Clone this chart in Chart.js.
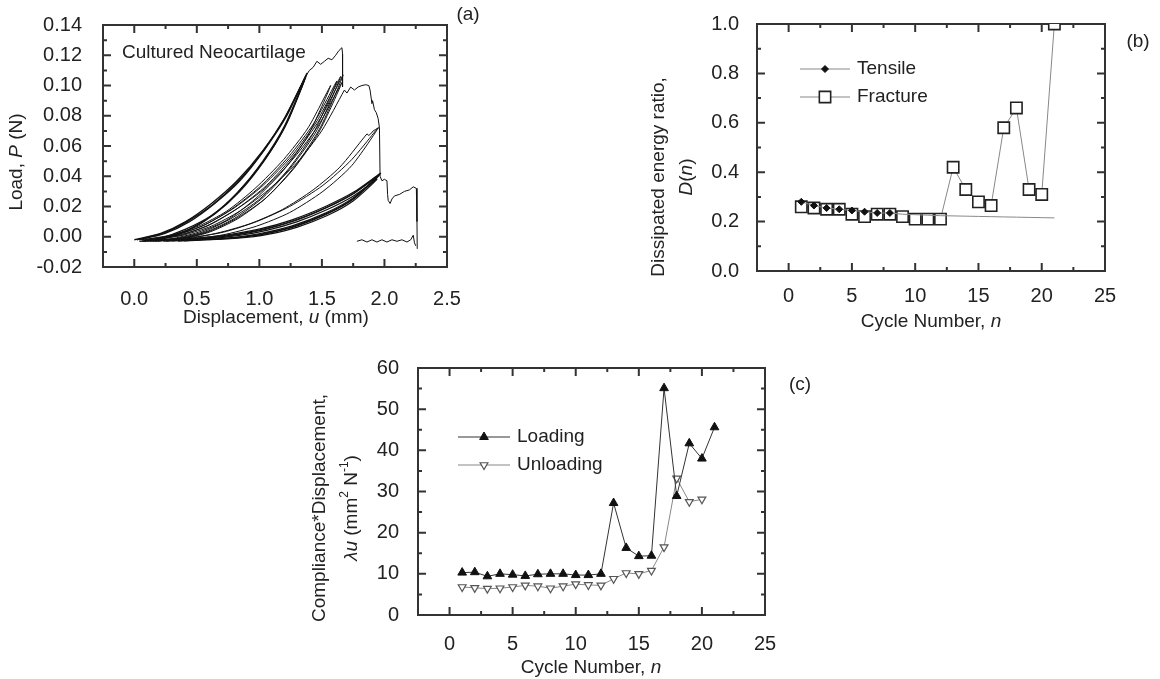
<!DOCTYPE html>
<html lang="en">
<head>
<meta charset="UTF-8">
<title>Cultured neocartilage cyclic fracture</title>
<script src="https://cdn.jsdelivr.net/npm/chart.js"></script>
<style>
    body { margin: 0; background: #fff; }
    .page { position: relative; width: 1160px; height: 679px; overflow: hidden; }
    canvas { position: absolute; }
    #chartA { left: 0; top: 0; }
    #chartB { left: 560px; top: 0; }
    #chartC { left: 300px; top: 330px; }
</style>
</head>
<body>
<div class="page">
    <canvas id="chartA" width="500" height="335"></canvas>
    <canvas id="chartB" width="600" height="335"></canvas>
    <canvas id="chartC" width="540" height="349"></canvas>
</div>

<script>
// ---- tick labels ----
const xTicksA = [0, 0.5, 1.0, 1.5, 2.0, 2.5];
const yTicksA = [-0.02, 0, 0.02, 0.04, 0.06, 0.08, 0.10, 0.12, 0.14];
const xTicksN = [0, 5, 10, 15, 20, 25];
const yTicksB = [0, 0.2, 0.4, 0.6, 0.8, 1.0];
const yTicksC = [0, 10, 20, 30, 40, 50, 60];

// ---- (a) load vs displacement, flat [u, P, u, P, ...] ----
const loopsStiff = [
    [0,-0.002, 0.206,0.002, 0.411,0.010, 0.617,0.022, 0.822,0.037, 1.028,0.057, 1.206,0.079, 1.37,0.106,
     1.206,0.074, 1.028,0.050, 0.822,0.029, 0.617,0.014, 0.411,0.005, 0.206,-0.001, 0.041,-0.003],
    [0.02,-0.002, 0.221,0.002, 0.422,0.010, 0.623,0.021, 0.824,0.036, 1.025,0.056, 1.199,0.078, 1.36,0.104,
     1.199,0.072, 1.025,0.049, 0.824,0.029, 0.623,0.014, 0.422,0.004, 0.221,-0.001, 0.06,-0.003],
    [0.04,-0.002, 0.241,0.002, 0.442,0.010, 0.643,0.022, 0.844,0.037, 1.045,0.058, 1.219,0.080, 1.38,0.108,
     1.219,0.075, 1.045,0.051, 0.844,0.030, 0.643,0.015, 0.442,0.005, 0.241,-0.001, 0.08,-0.003]
];
const loopsMid = [
    [0.06,-0.002, 0.287,0.001, 0.513,0.007, 0.74,0.017, 0.966,0.032, 1.193,0.051, 1.389,0.072, 1.57,0.100,
     1.389,0.067, 1.193,0.044, 0.966,0.025, 0.74,0.011, 0.513,0.003, 0.287,-0.0015, 0.105,-0.003],
    [0.08,-0.002, 0.311,0.001, 0.542,0.007, 0.773,0.018, 1.004,0.033, 1.235,0.053, 1.435,0.075, 1.62,0.103,
     1.435,0.069, 1.235,0.045, 1.004,0.025, 0.773,0.012, 0.542,0.003, 0.311,-0.0015, 0.126,-0.003],
    [0.10,-0.002, 0.333,0.001, 0.565,0.008, 0.798,0.019, 1.03,0.034, 1.263,0.054, 1.464,0.077, 1.65,0.106,
     1.464,0.071, 1.263,0.047, 1.03,0.026, 0.798,0.012, 0.565,0.003, 0.333,-0.0015, 0.147,-0.003],
    [0.12,-0.002, 0.351,0.001, 0.582,0.007, 0.813,0.018, 1.044,0.032, 1.275,0.052, 1.475,0.074, 1.66,0.102,
     1.475,0.069, 1.275,0.045, 1.044,0.025, 0.813,0.012, 0.582,0.003, 0.351,-0.0015, 0.166,-0.003],
    [0.14,-0.002, 0.37,0.001, 0.599,0.008, 0.829,0.019, 1.058,0.034, 1.288,0.055, 1.486,0.078, 1.67,0.107,
     1.486,0.072, 1.288,0.047, 1.058,0.026, 0.829,0.012, 0.599,0.003, 0.37,-0.0015, 0.186,-0.003]
];
const loopsSoft = [
    [0.16,-0.002, 0.388,0.001, 0.616,0.007, 0.844,0.017, 1.072,0.031, 1.3,0.049, 1.498,0.070, 1.68,0.097],
    [0.2,-0.002, 0.446,-0.001, 0.692,0.003, 0.938,0.009, 1.184,0.018, 1.43,0.031, 1.643,0.046, 1.84,0.066],
    [0.18,-0.002, 0.446,-0.0005, 0.711,0.003, 0.977,0.010, 1.242,0.020, 1.508,0.034, 1.738,0.051, 1.95,0.072,
     1.738,0.047, 1.508,0.030, 1.242,0.016, 0.977,0.007, 0.711,0.0013, 0.446,-0.0016, 0.233,-0.003]
];
const loopsLow = [
    [0.25,-0.002, 0.505,-0.0012, 0.76,0.0009, 1.015,0.0047, 1.27,0.0106, 1.525,0.019, 1.746,0.0282, 1.95,0.040,
     1.746,0.0249, 1.525,0.0148, 1.27,0.0068, 1.015,0.0018, 0.76,-0.001, 0.505,-0.002, 0.301,-0.0028],
    [0.3,-0.002, 0.549,-0.0011, 0.798,0.001, 1.047,0.0049, 1.296,0.0109, 1.545,0.0195, 1.761,0.029, 1.96,0.041,
     1.761,0.0255, 1.545,0.0152, 1.296,0.007, 1.047,0.0019, 0.798,-0.0009, 0.549,-0.002, 0.35,-0.0029],
    [0.35,-0.002, 0.589,-0.0012, 0.827,0.0008, 1.066,0.0044, 1.304,0.010, 1.543,0.018, 1.749,0.0268, 1.94,0.038,
     1.749,0.0236, 1.543,0.014, 1.304,0.0064, 1.066,0.0016, 0.827,-0.001, 0.589,-0.002, 0.398,-0.0028],
    [0.2,-0.002, 0.466,-0.0011, 0.731,0.0011, 0.997,0.005, 1.262,0.0112, 1.528,0.020, 1.758,0.0297, 1.97,0.042,
     1.758,0.0262, 1.528,0.0156, 1.262,0.0072, 0.997,0.002, 0.731,-0.0009, 0.466,-0.002, 0.253,-0.0029]
];
// crack growth segments (jagged)
const tearTop = [1.37,0.106, 1.40,0.110, 1.43,0.112, 1.46,0.116, 1.49,0.114, 1.52,0.116, 1.55,0.118, 1.58,0.117,
                 1.61,0.120, 1.635,0.123, 1.66,0.125, 1.665,0.121, 1.665,0.099];
const tearMid = [1.68,0.097, 1.70,0.095, 1.73,0.099, 1.76,0.097, 1.79,0.099, 1.82,0.100, 1.85,0.1005, 1.875,0.100,
                 1.885,0.097, 1.90,0.088, 1.905,0.090, 1.92,0.084, 1.935,0.082, 1.95,0.078, 1.96,0.072];
const tearLow = [1.84,0.066, 1.86,0.068, 1.875,0.067, 1.89,0.068, 1.91,0.070, 1.93,0.071, 1.95,0.072, 1.96,0.072, 1.965,0.040];
const tailPath = [1.965,0.040, 1.98,0.037, 2.0,0.038, 2.02,0.037, 2.025,0.028, 2.03,0.024, 2.045,0.022, 2.06,0.025,
                  2.08,0.027, 2.12,0.028, 2.16,0.030, 2.2,0.031, 2.23,0.033, 2.255,0.032, 2.26,0.010, 2.262,-0.008];
const tailNoise = [1.78,-0.003, 1.82,-0.002, 1.86,-0.0035, 1.9,-0.002, 1.94,-0.0035, 1.98,-0.002, 2.02,-0.0035,
                   2.06,-0.002, 2.1,-0.003, 2.14,-0.002, 2.18,-0.0035, 2.21,-0.002, 2.23,0.001, 2.24,-0.004, 2.25,-0.006];

// ---- (b) dissipated energy ratio ----
const cycles = [1, 2, 3, 4, 5, 6, 7, 8, 9, 10, 11, 12, 13, 14, 15, 16, 17, 18, 19, 20, 21];
const tensileD = [0.28, 0.265, 0.255, 0.25, 0.245, 0.24, 0.235, 0.235, 0.23, 0.228, 0.226, 0.224,
                  0.223, 0.222, 0.221, 0.22, 0.219, 0.218, 0.217, 0.216, 0.215];
const fractureD = [0.26, 0.255, 0.25, 0.25, 0.23, 0.22, 0.23, 0.23, 0.22, 0.21, 0.21, 0.21,
                   0.42, 0.33, 0.28, 0.265, 0.58, 0.66, 0.33, 0.31, 1.0];

// ---- (c) compliance * displacement ----
const loadingC = [10.3, 10.4, 9.4, 10.0, 9.8, 9.5, 9.9, 10.0, 10.0, 9.7, 9.7, 10.0,
                  27.2, 16.3, 14.3, 14.4, 55.1, 28.9, 41.7, 38.0, 45.6];
const unloadingC = [6.8, 6.6, 6.4, 6.5, 6.8, 7.2, 7.0, 6.5, 7.0, 7.5, 7.3, 7.2,
                    8.8, 10.2, 10.0, 10.8, 16.5, 33.2, 27.5, 28.1];

const FAMILY = '"Liberation Sans", Arial, Helvetica, sans-serif';
const INK = '#222';

const tensileStyle = { line: '#888', pointStyle: 'rectRot', radius: 3.5, fill: '#111', stroke: '#111', borderWidth: 1 };
const fractureStyle = { line: '#888', pointStyle: 'rect', radius: 8, fill: '#fff', stroke: '#222', borderWidth: 1.6 };
const loadingStyle = { line: '#333', pointStyle: 'triangle', radius: 5, fill: '#111', stroke: '#111', borderWidth: 1 };
const unloadingStyle = { line: '#888', pointStyle: 'triangle', rotation: 180, radius: 4.5, fill: '#fff', stroke: '#555', borderWidth: 1.2 };

function pairs(flat) {
    const out = [];
    for (let i = 0; i < flat.length; i += 2) out.push({ x: flat[i], y: flat[i + 1] });
    return out;
}

function trace(flat, tension, width) {
    return { data: pairs(flat), showLine: true, borderColor: '#111', borderWidth: width || 1,
             pointRadius: 0, tension: tension };
}

function series(xs, ys, st, extra) {
    return Object.assign({
        data: ys.map((y, i) => ({ x: xs[i], y: y })),
        showLine: true, borderColor: st.line, borderWidth: 1, tension: 0,
        pointStyle: st.pointStyle, pointRadius: st.radius, pointRotation: st.rotation || 0,
        pointBackgroundColor: st.fill, pointBorderColor: st.stroke, pointBorderWidth: st.borderWidth
    }, extra || {});
}

function axis(min, max, ticks, fmt, size, pad, isY) {
    return {
        type: 'linear', min: min, max: max,
        afterBuildTicks: s => { s.ticks = ticks.map(v => ({ value: v })); },
        afterFit: s => { if (isY) s.width = size; else s.height = size; },
        grid: { display: false },
        border: { display: false },
        ticks: { padding: pad, color: INK, autoSkip: false, maxRotation: 0,
                 font: { family: FAMILY, size: 20 }, callback: v => fmt(v) }
    };
}

function minorsOf(major, min, max) {
    const step = major[1] - major[0];
    const out = [];
    for (let i = -1; i < major.length; i++) {
        const v = major[0] + (i + 0.5) * step;
        if (v > min + 1e-9 && v < max - 1e-9) out.push(v);
    }
    return out;
}

// box with inward major/minor ticks on all four sides
const framePlugin = {
    id: 'frame',
    beforeDatasetsDraw(chart) {
        const { ctx, chartArea: a } = chart;
        const xs = chart.scales.x, ys = chart.scales.y;
        const xMaj = xs.ticks.map(t => t.value), yMaj = ys.ticks.map(t => t.value);
        ctx.save();
        ctx.strokeStyle = '#333';
        ctx.lineWidth = 2;
        ctx.beginPath();
        const xTick = (v, len) => {
            const p = xs.getPixelForValue(v);
            ctx.moveTo(p, a.bottom); ctx.lineTo(p, a.bottom - len);
            ctx.moveTo(p, a.top); ctx.lineTo(p, a.top + len);
        };
        const yTick = (v, len) => {
            const p = ys.getPixelForValue(v);
            ctx.moveTo(a.left, p); ctx.lineTo(a.left + len, p);
            ctx.moveTo(a.right, p); ctx.lineTo(a.right - len, p);
        };
        xMaj.forEach(v => xTick(v, 8));
        minorsOf(xMaj, xs.min, xs.max).forEach(v => xTick(v, 4));
        yMaj.forEach(v => yTick(v, 8));
        minorsOf(yMaj, ys.min, ys.max).forEach(v => yTick(v, 4));
        ctx.stroke();
        ctx.strokeRect(a.left, a.top, a.right - a.left, a.bottom - a.top);
        ctx.restore();
    }
};

function drawRich(ctx, it) {
    const size = it.size || 19;
    const fontOf = s => (s.it ? 'italic ' : '') + (s.sup ? Math.round(size * 0.62) : size) + 'px ' + FAMILY;
    ctx.save();
    ctx.translate(it.x, it.y);
    if (it.rot) ctx.rotate(-Math.PI / 2);
    let w = 0;
    it.segs.forEach(s => { ctx.font = fontOf(s); w += ctx.measureText(s.t).width; });
    let cx = it.align === 'left' ? 0 : -w / 2;
    ctx.fillStyle = INK;
    ctx.textBaseline = 'middle';
    ctx.textAlign = 'left';
    it.segs.forEach(s => {
        ctx.font = fontOf(s);
        ctx.fillText(s.t, cx, s.sup ? -size * 0.38 : 0);
        cx += ctx.measureText(s.t).width;
    });
    ctx.restore();
}

function textLayer(items) {
    return { id: 'textLayer', afterDraw(chart) { items.forEach(it => drawRich(chart.ctx, it)); } };
}

function legendLayer(rows) {
    return {
        id: 'legendLayer',
        afterDraw(chart) {
            const ctx = chart.ctx;
            rows.forEach(r => {
                const st = r.style;
                ctx.save();
                ctx.strokeStyle = st.line;
                ctx.lineWidth = 1;
                ctx.beginPath(); ctx.moveTo(r.x1, r.y); ctx.lineTo(r.x2, r.y); ctx.stroke();
                ctx.fillStyle = st.fill;
                ctx.strokeStyle = st.stroke;
                ctx.lineWidth = st.borderWidth;
                Chart.helpers.drawPoint(ctx, { pointStyle: st.pointStyle, rotation: st.rotation || 0,
                    radius: st.radius, borderWidth: st.borderWidth }, (r.x1 + r.x2) / 2, r.y);
                ctx.restore();
                drawRich(ctx, { segs: [{ t: r.label }], x: r.x2 + 7, y: r.y, align: 'left' });
            });
        }
    };
}

const baseOptions = (padding, scales) => ({
    responsive: false, animation: false, devicePixelRatio: 1,
    layout: { padding: padding },
    plugins: { legend: { display: false }, tooltip: { enabled: false } },
    scales: scales
});

// ---------- (a) ----------
const setsA = []
    .concat(loopsStiff.map(l => trace(l, 0.25, 1.3)))
    .concat(loopsMid.map(l => trace(l, 0.25)))
    .concat(loopsSoft.map(l => trace(l, 0.25)))
    .concat(loopsLow.map(l => trace(l, 0.25, 1.2)))
    .concat([tearTop, tearMid, tearLow, tailPath, tailNoise].map(l => trace(l, 0)));

new Chart(document.getElementById('chartA'), {
    type: 'scatter',
    data: { datasets: setsA },
    options: baseOptions({ top: 24, right: 53, left: 0, bottom: 0 }, {
        x: axis(-0.25, 2.5, xTicksA, v => v.toFixed(1), 68, 12, false),
        y: axis(-0.02, 0.14, yTicksA, v => v.toFixed(2), 103, 13, true)
    }),
    plugins: [framePlugin, textLayer([
        { segs: [{ t: 'Cultured Neocartilage' }], x: 122, y: 53, align: 'left' },
        { segs: [{ t: '(a)' }], x: 468, y: 15 },
        { segs: [{ t: 'Load, ' }, { t: 'P', it: true }, { t: ' (N)' }], x: 17, y: 162, rot: true },
        { segs: [{ t: 'Displacement, ' }, { t: 'u', it: true }, { t: ' (mm)' }], x: 276, y: 318 }
    ])]
});

// ---------- (b) ----------
new Chart(document.getElementById('chartB'), {
    type: 'scatter',
    data: { datasets: [
        series(cycles, tensileD, tensileStyle, { pointRadius: c => c.dataIndex < 8 ? tensileStyle.radius : 0 }),
        series(cycles, fractureD, fractureStyle)
    ] },
    options: baseOptions({ top: 24, right: 55, left: 0, bottom: 0 }, {
        x: axis(-2.5, 25, xTicksN, v => String(v), 64, 5, false),
        y: axis(0, 1.0, yTicksB, v => v.toFixed(1), 197, 10, true)
    }),
    plugins: [framePlugin, legendLayer([
        { style: tensileStyle, label: 'Tensile', x1: 240, x2: 290, y: 69 },
        { style: fractureStyle, label: 'Fracture', x1: 240, x2: 290, y: 97 }
    ]), textLayer([
        { segs: [{ t: '(b)' }], x: 578, y: 42 },
        { segs: [{ t: 'Dissipated energy ratio,' }], x: 99, y: 177, rot: true },
        { segs: [{ t: 'D', it: true }, { t: '(' }, { t: 'n', it: true }, { t: ')' }], x: 127, y: 177, rot: true },
        { segs: [{ t: 'Cycle Number, ' }, { t: 'n', it: true }], x: 371, y: 322 }
    ])]
});

// ---------- (c) ----------
new Chart(document.getElementById('chartC'), {
    type: 'scatter',
    data: { datasets: [
        series(cycles, loadingC, loadingStyle),
        series(cycles, unloadingC, unloadingStyle)
    ] },
    options: baseOptions({ top: 38, right: 75, left: 0, bottom: 0 }, {
        x: axis(-2.5, 25, xTicksN, v => String(v), 64, 9, false),
        y: axis(0, 60, yTicksC, v => String(v), 118, 11, true)
    }),
    plugins: [framePlugin, legendLayer([
        { style: loadingStyle, label: 'Loading', x1: 158, x2: 210, y: 107 },
        { style: unloadingStyle, label: 'Unloading', x1: 158, x2: 210, y: 135 }
    ]), textLayer([
        { segs: [{ t: '(c)' }], x: 500, y: 55 },
        { segs: [{ t: 'Compliance*Displacement,' }], x: 20, y: 178, rot: true },
        { segs: [{ t: '\u03bbu', it: true }, { t: ' (mm' }, { t: '2', sup: true }, { t: ' N' }, { t: '-1', sup: true }, { t: ')' }],
          x: 52, y: 178, rot: true },
        { segs: [{ t: 'Cycle Number, ' }, { t: 'n', it: true }], x: 291, y: 338 }
    ])]
});
</script>
</body>
</html>
